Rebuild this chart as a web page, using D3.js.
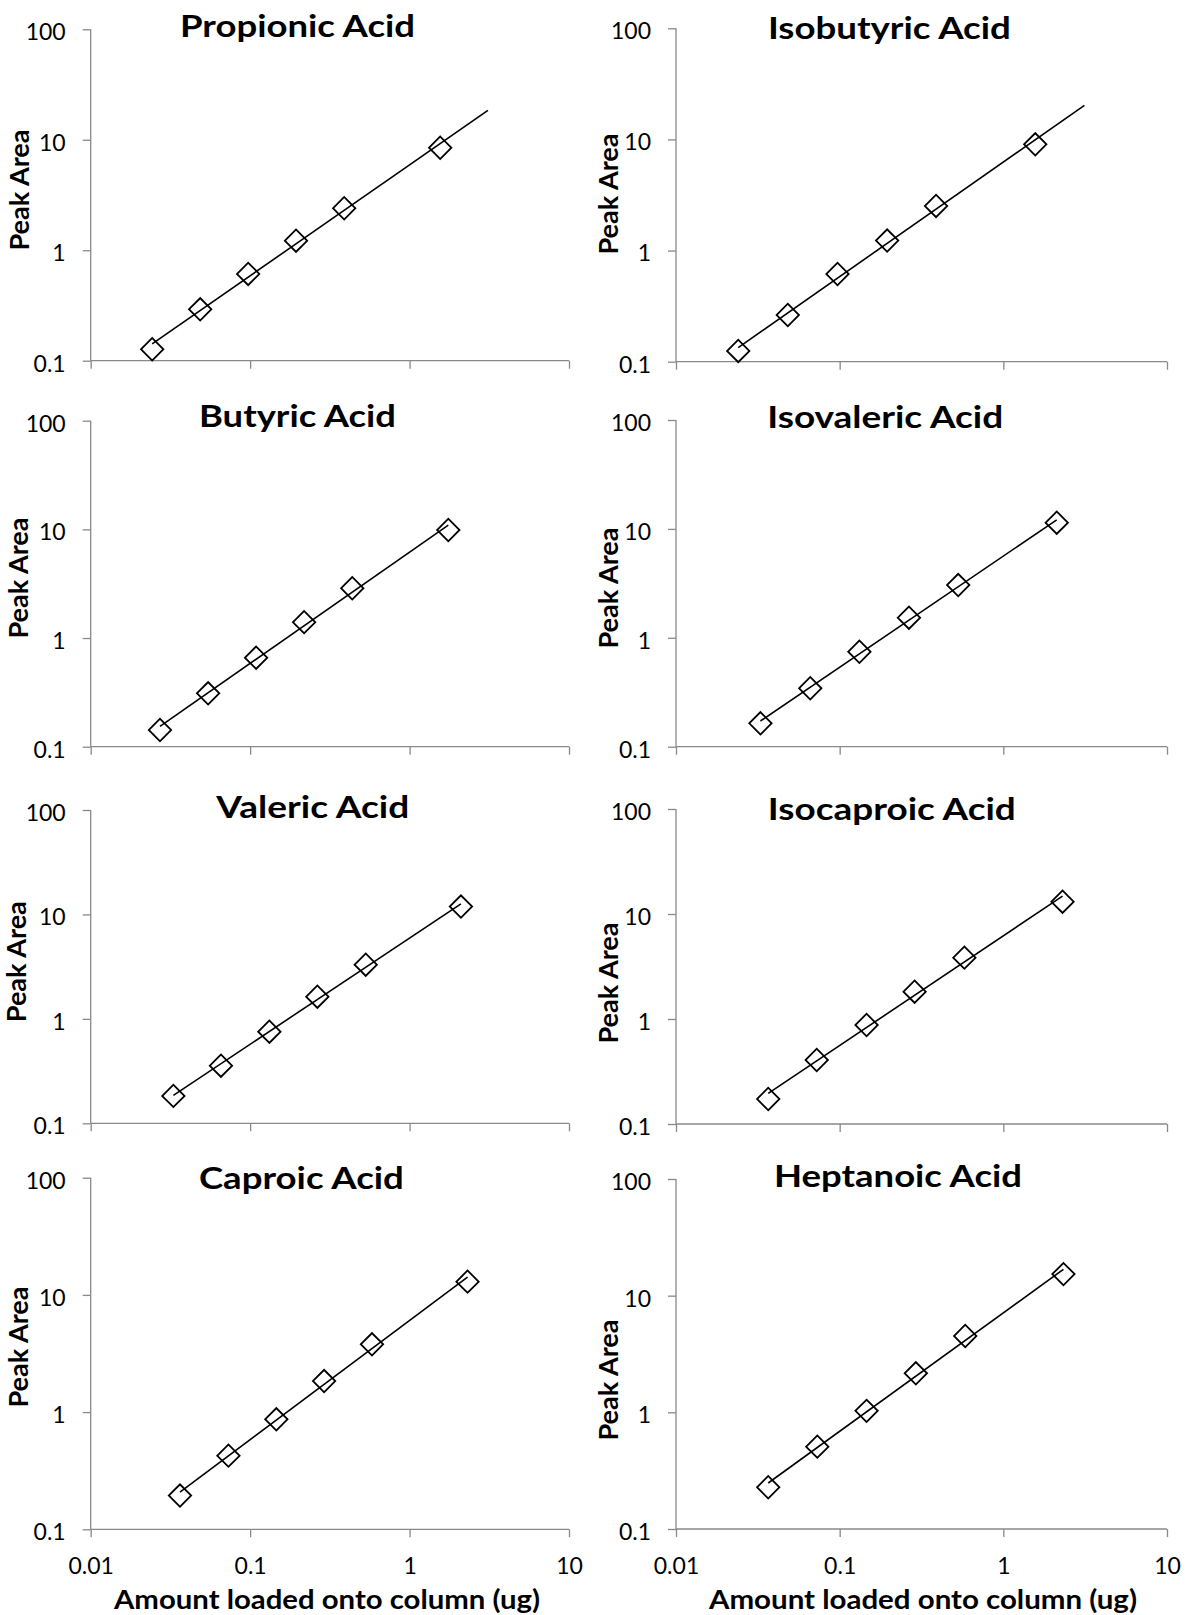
<!DOCTYPE html>
<html>
<head>
<meta charset="utf-8">
<script src="https://cdn.jsdelivr.net/npm/d3@7"></script>
<style>
  html, body { margin: 0; padding: 0; background: #fff; }
  svg { display: block; font-family: Lato, "Open Sans", sans-serif; }
</style>
</head>
<body>
<svg id="chart" width="1199" height="1615"></svg>
<script>
// Calibration data: amount of each volatile fatty acid loaded onto the column (ug)
// against the detector peak area, one panel per acid.
const acids = [
  "Propionic Acid", "Isobutyric Acid",
  "Butyric Acid", "Isovaleric Acid",
  "Valeric Acid", "Isocaproic Acid",
  "Caproic Acid", "Heptanoic Acid"
];

const propionicAmount  = [0.0243, 0.0486, 0.0972, 0.194, 0.389, 1.556];
const isobutyricAmount = [0.0240, 0.0482, 0.0970, 0.195, 0.388, 1.567];
const butyricAmount    = [0.0272, 0.0545, 0.109, 0.218, 0.437, 1.75];
const isovalericAmount = [0.0328, 0.0661, 0.132, 0.265, 0.530, 2.12];
const valericAmount    = [0.0330, 0.0656, 0.132, 0.264, 0.531, 2.10];
const isocaproicAmount = [0.0366, 0.0724, 0.146, 0.287, 0.578, 2.30];
const caproicAmount    = [0.0363, 0.0731, 0.146, 0.291, 0.581, 2.31];
const heptanoicAmount  = [0.0366, 0.0730, 0.146, 0.292, 0.585, 2.33];

const propionicArea  = [0.127, 0.292, 0.610, 1.22, 2.40, 8.47];
const isobutyricArea = [0.125, 0.263, 0.615, 1.23, 2.52, 9.04];
const butyricArea    = [0.1425, 0.310, 0.659, 1.40, 2.87, 9.87];
const isovalericArea = [0.164, 0.344, 0.745, 1.53, 3.05, 11.4];
const valericArea    = [0.183, 0.356, 0.754, 1.63, 3.30, 11.9];
const isocaproicArea = [0.173, 0.407, 0.877, 1.82, 3.84, 13.1];
const caproicArea    = [0.194, 0.425, 0.868, 1.84, 3.79, 12.97];
const heptanoicArea  = [0.228, 0.508, 1.03, 2.16, 4.51, 15.3];

const amounts = [propionicAmount, isobutyricAmount, butyricAmount, isovalericAmount,
                 valericAmount, isocaproicAmount, caproicAmount, heptanoicAmount];
const areas = [propionicArea, isobutyricArea, butyricArea, isovalericArea,
               valericArea, isocaproicArea, caproicArea, heptanoicArea];

// Upper end of each power trendline (forward forecast on the first two panels)
const trendEnd = [3.10, 3.13, null, null, null, null, null, null];

const xTickValues = [0.01, 0.1, 1, 10];
const yTickValues = [0.1, 1, 10, 100];
const xTickLabels = ["0.01", "0.1", "1", "10"];
const yTickLabels = ["0.1", "1", "10", "100"];
const yAxisTitle = "Peak Area";
const xAxisTitle = "Amount loaded onto column (ug)";

// Panel frames: horizontal span of the 0.01..10 axis, vertical span of 100..0.1
const colFrames = [{ x0: 90.7, x1: 569 }, { x0: 676, x1: 1167 }];
const rowFrames = [
  [{ top: 29.3, bottom: 360.7 }, { top: 28.3, bottom: 361.7 }],
  [{ top: 420.7, bottom: 746.7 }, { top: 420, bottom: 746.7 }],
  [{ top: 810, bottom: 1123.3 }, { top: 809, bottom: 1124 }],
  [{ top: 1177.7, bottom: 1529.3 }, { top: 1179, bottom: 1529 }]
];
// Title centre / baseline / drawn width, y-label centre
const titleLayout = [
  { cx: 297.5, by: 36.7, w: 235 }, { cx: 889.4, by: 39, w: 243 },
  { cx: 297.5, by: 427.3, w: 197 }, { cx: 885.2, by: 428, w: 236 },
  { cx: 312.8, by: 818.3, w: 193 }, { cx: 891.8, by: 820, w: 248 },
  { cx: 301.4, by: 1189.3, w: 205 }, { cx: 898, by: 1187.3, w: 248 }
];
const yLabelLayout = [
  { cx: 20, cy: 190 }, { cx: 609, cy: 194 },
  { cx: 19, cy: 578 }, { cx: 609, cy: 588 },
  { cx: 17, cy: 961.7 }, { cx: 609, cy: 983 },
  { cx: 19, cy: 1347 }, { cx: 609, cy: 1380 }
];
const xTitleLayout = [{ cx: 327, by: 1609, w: 426 }, { cx: 923, by: 1609, w: 428 }];

const AXIS_COLOR = "#898989";
const TEXT_COLOR = "#000";

const svg = d3.select("#chart");

// Least-squares power fit y = a * x^b in log-log space
function powerFit(xs, ys) {
  const lx = xs.map(Math.log), ly = ys.map(Math.log);
  const mx = d3.mean(lx), my = d3.mean(ly);
  let sxy = 0, sxx = 0;
  lx.forEach((v, i) => { sxy += (v - mx) * (ly[i] - my); sxx += (v - mx) * (v - mx); });
  const b = sxy / sxx;
  const a = Math.exp(my - b * mx);
  return x => a * Math.pow(x, b);
}

const diamond = d3.symbol().type(d3.symbolSquare).size(250);

acids.forEach((name, i) => {
  const row = Math.floor(i / 2), col = i % 2;
  const cf = colFrames[col], rf = rowFrames[row][col];
  const x = d3.scaleLog().domain([0.01, 10]).range([cf.x0, cf.x1]);
  const y = d3.scaleLog().domain([0.1, 100]).range([rf.bottom, rf.top]);
  const g = svg.append("g").attr("class", "panel");
  const isBottom = row === rowFrames.length - 1;

  // y axis
  const yAxis = d3.axisLeft(y).tickValues(yTickValues).tickSize(8)
    .tickFormat((d, k) => yTickLabels[k]);
  const ya = g.append("g").attr("transform", `translate(${cf.x0},0)`).call(yAxis);
  ya.select(".domain").attr("stroke", AXIS_COLOR).attr("stroke-width", 1.3)
    .attr("d", `M0,${rf.bottom}V${rf.top}`);
  ya.selectAll(".tick line").attr("stroke", AXIS_COLOR).attr("stroke-width", 1.3);
  ya.selectAll(".tick text").attr("x", -25).attr("dy", "0.45em")
    .attr("fill", TEXT_COLOR).style("font-size", "23px").style("font-family", "Lato");

  // x axis
  const xAxis = d3.axisBottom(x).tickValues(xTickValues).tickSize(8)
    .tickFormat((d, k) => isBottom ? xTickLabels[k] : "");
  const xa = g.append("g").attr("transform", `translate(0,${rf.bottom})`).call(xAxis);
  xa.select(".domain").attr("stroke", AXIS_COLOR).attr("stroke-width", 1.3)
    .attr("d", `M${cf.x0},0H${cf.x1}`);
  xa.selectAll(".tick line").attr("stroke", AXIS_COLOR).attr("stroke-width", 1.3);
  xa.selectAll(".tick text").attr("y", 45).attr("dy", 0)
    .attr("fill", TEXT_COLOR).style("font-size", "23px").style("font-family", "Lato");

  // markers
  const pts = amounts[i].map((v, k) => ({ x: v, y: areas[i][k] }));
  g.append("g").selectAll("path").data(pts).join("path")
    .attr("d", diamond)
    .attr("transform", d => `translate(${x(d.x)},${y(d.y)}) rotate(45)`)
    .attr("fill", "#fff")
    .attr("stroke", "#000")
    .attr("stroke-width", 1.8);

  // power trendline
  const fit = powerFit(amounts[i], areas[i]);
  const x0v = d3.min(amounts[i]);
  const x1v = trendEnd[i] ?? d3.max(amounts[i]);
  const line = d3.line().x(d => x(d)).y(d => y(fit(d)));
  g.append("path").datum([x0v, x1v]).attr("d", line)
    .attr("fill", "none").attr("stroke", "#000").attr("stroke-width", 1.6);

  // title
  const tl = titleLayout[i];
  g.append("text").text(name)
    .attr("x", tl.cx).attr("y", tl.by).attr("text-anchor", "middle")
    .attr("textLength", tl.w).attr("lengthAdjust", "spacingAndGlyphs")
    .attr("fill", TEXT_COLOR)
    .style("font-size", "30px").style("font-weight", 700);

  // y axis title
  const yl = yLabelLayout[i];
  g.append("text").text(yAxisTitle)
    .attr("transform", `translate(${yl.cx + 9},${yl.cy}) rotate(-90)`)
    .attr("text-anchor", "middle").attr("fill", TEXT_COLOR)
    .attr("textLength", 121).attr("lengthAdjust", "spacingAndGlyphs")
    .style("font-size", "26px").style("font-weight", 700);

  // x axis title on the bottom row
  if (isBottom) {
    const xt = xTitleLayout[col];
    g.append("text").text(xAxisTitle)
      .attr("x", xt.cx).attr("y", xt.by).attr("text-anchor", "middle")
      .attr("textLength", xt.w).attr("lengthAdjust", "spacingAndGlyphs")
      .attr("fill", TEXT_COLOR)
      .style("font-size", "27px").style("font-weight", 700);
  }
});
</script>
</body>
</html>
